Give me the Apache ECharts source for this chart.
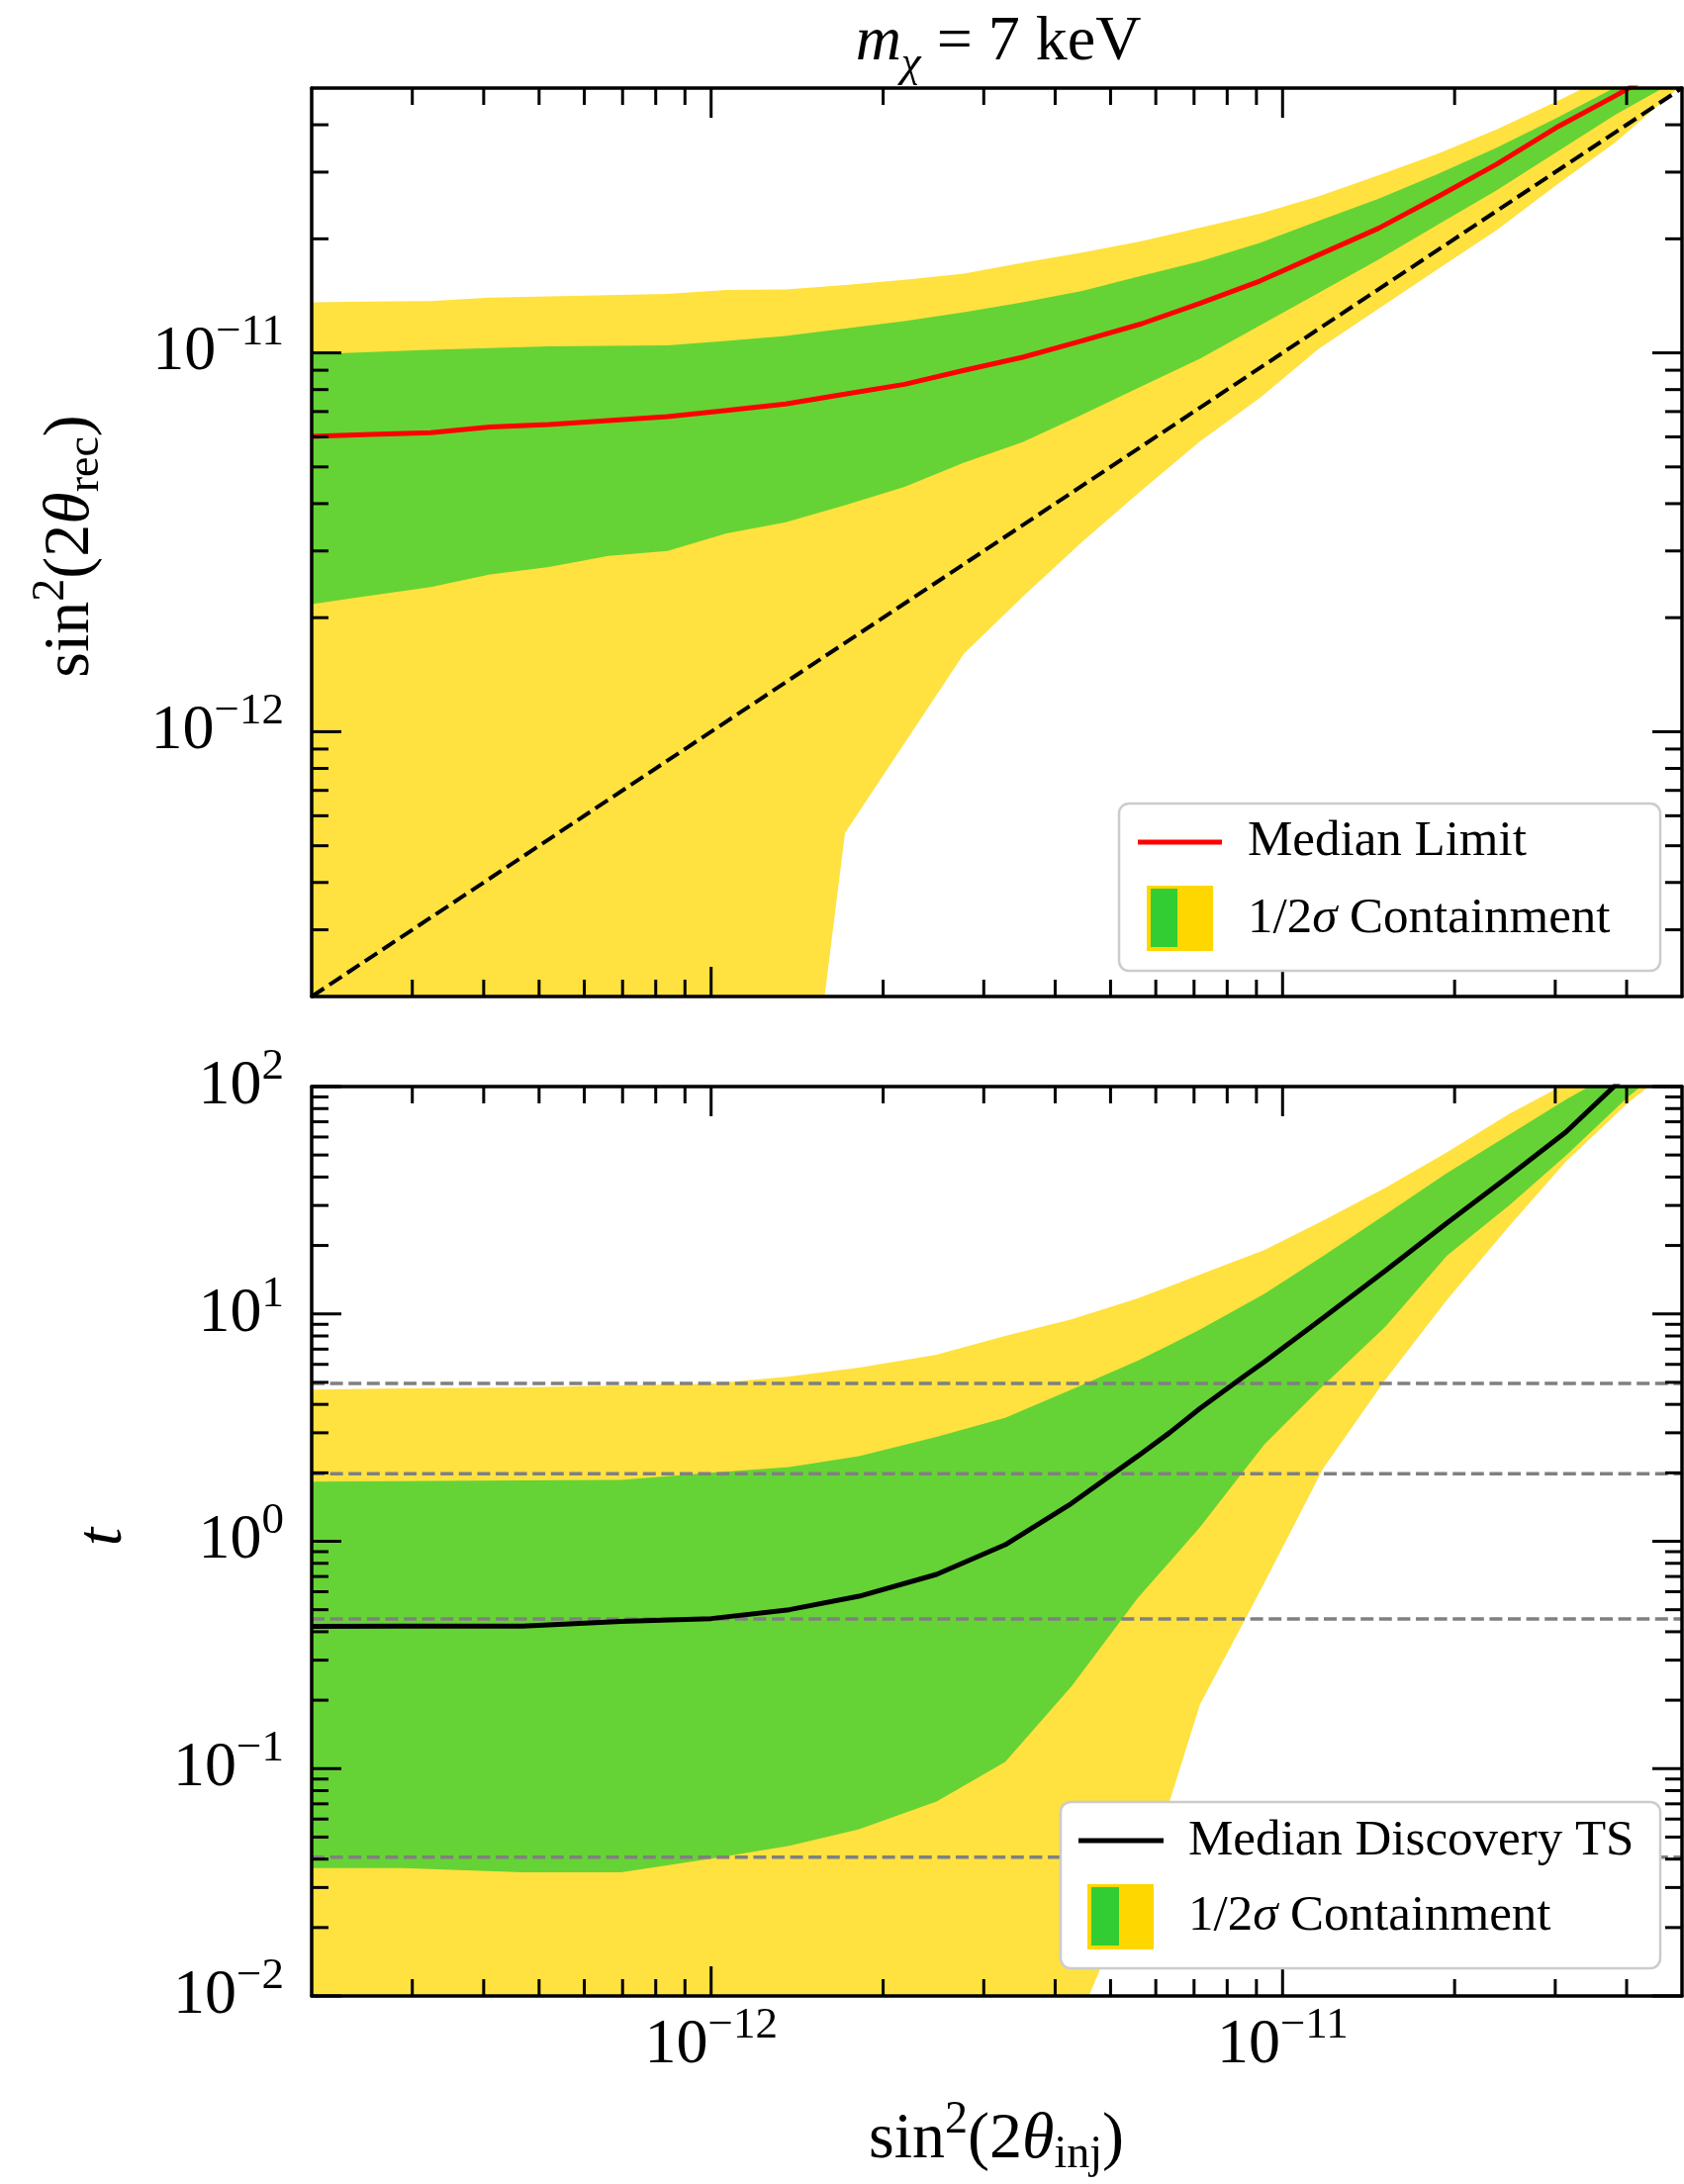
<!DOCTYPE html>
<html>
<head>
<meta charset="utf-8">
<script src="https://cdn.jsdelivr.net/npm/echarts@6/dist/echarts.min.js"></script>
<style>
html,body{margin:0;padding:0;background:#fff;}
#chart{width:1702px;height:2207px;}
</style>
</head>
<body>
<div id="chart"></div>
<script>
// ================= DATA =================
const xRange = [2e-13, 5e-11];
const topYRange = [2e-13, 5e-11];
const botYRange = [1e-2, 1e2];

// Top panel: recovered mixing angle vs injected
const topX = [2.0e-13, 2.54e-13, 3.23e-13, 4.10e-13, 5.20e-13, 6.61e-13, 8.39e-13, 1.064e-12, 1.35e-12, 1.715e-12,
  2.18e-12, 2.77e-12, 3.51e-12, 4.46e-12, 5.66e-12, 7.18e-12, 9.12e-12, 1.158e-11, 1.47e-11, 1.866e-11,
  2.37e-11, 3.01e-11, 3.82e-11, 4.85e-11, 6.15e-11];
const topYellowUpper = [1.36e-11, 1.365e-11, 1.37e-11, 1.40e-11, 1.41e-11, 1.42e-11, 1.43e-11, 1.465e-11, 1.47e-11, 1.51e-11,
  1.56e-11, 1.62e-11, 1.73e-11, 1.84e-11, 1.97e-11, 2.14e-11, 2.33e-11, 2.59e-11, 2.94e-11, 3.35e-11,
  3.89e-11, 4.6e-11, 5.5e-11, 6.5e-11, 7.6e-11];
const topGreenUpper = [9.92e-12, 1.005e-11, 1.019e-11, 1.03e-11, 1.04e-11, 1.044e-11, 1.047e-11, 1.075e-11, 1.108e-11, 1.16e-11,
  1.212e-11, 1.28e-11, 1.359e-11, 1.456e-11, 1.596e-11, 1.746e-11, 1.95e-11, 2.234e-11, 2.55e-11, 2.965e-11,
  3.48e-11, 4.16e-11, 5.02e-11, 6.0e-11, 7.2e-11];
const topMedianLimit = [6.02e-12, 6.09e-12, 6.16e-12, 6.37e-12, 6.47e-12, 6.63e-12, 6.79e-12, 7.05e-12, 7.33e-12, 7.78e-12,
  8.26e-12, 8.99e-12, 9.74e-12, 1.076e-11, 1.193e-11, 1.353e-11, 1.547e-11, 1.816e-11, 2.13e-11, 2.58e-11,
  3.15e-11, 3.93e-11, 4.77e-11, 5.85e-11, 7.1e-11];
const topGreenLower = [2.17e-12, 2.29e-12, 2.41e-12, 2.60e-12, 2.72e-12, 2.91e-12, 3.00e-12, 3.34e-12, 3.57e-12, 3.96e-12,
  4.43e-12, 5.13e-12, 5.81e-12, 6.87e-12, 8.15e-12, 9.66e-12, 1.18e-11, 1.442e-11, 1.762e-11, 2.176e-11,
  2.685e-11, 3.38e-11, 4.25e-11, 5.2e-11, 6.5e-11];
const topYellowLower = [1e-15, 1e-15, 1e-15, 1e-15, 1e-15, 1e-15, 1e-15, 1e-15, 3e-14, 5.40e-13,
  9.33e-13, 1.607e-12, 2.27e-12, 3.17e-12, 4.33e-12, 5.85e-12, 7.6e-12, 1.026e-11, 1.305e-11, 1.66e-11,
  2.11e-11, 2.77e-11, 3.59e-11, 4.9e-11, 6.0e-11];

// Bottom panel: discovery test statistic vs injected
const botX = [2.0e-13, 2.89e-13, 4.68e-13, 6.96e-13, 1.0e-12, 1.37e-12, 1.815e-12, 2.48e-12, 3.27e-12, 4.27e-12,
  5.58e-12, 6.34e-12, 7.17e-12, 8.54e-12, 9.29e-12, 1.179e-11, 1.514e-11, 1.938e-11, 2.49e-11, 3.135e-11,
  4.03e-11, 5.18e-11];
const botYellowUpper = [4.65, 4.70, 4.75, 4.85, 4.93, 5.31, 5.80, 6.62, 8.0, 9.46,
  11.7, 13.2, 14.9, 17.6, 19.1, 25.8, 35.9, 51.3, 75.7, 103, 145, 200];
const botGreenUpper = [1.83, 1.84, 1.85, 1.86, 2.0, 2.12, 2.37, 2.88, 3.49, 4.65,
  6.23, 7.3, 8.55, 10.9, 12.25, 18.0, 27.4, 41.6, 61.4, 87.8, 125, 175];
const botMedianTS = [0.4225, 0.423, 0.4236, 0.4436, 0.457, 0.50, 0.573, 0.715, 0.965, 1.466,
  2.37, 3.0, 3.84, 5.29, 6.15, 9.63, 15.5, 25.1, 40.4, 63.2, 115, 180];
const botGreenLower = [0.0365, 0.0365, 0.035, 0.035, 0.0402, 0.0458, 0.0541, 0.0717, 0.107, 0.23,
  0.564, 0.81, 1.153, 2.03, 2.666, 4.85, 8.81, 18.0, 30.0, 49.8, 90.5, 150];
const botYellowLower = [0.001, 0.001, 0.001, 0.001, 0.001, 0.001, 0.001, 0.001, 0.002, 0.0065,
  0.033, 0.0717, 0.192, 0.438, 0.657, 2.10, 5.15, 11.5, 24.3, 46.9, 85.1, 140];

// Horizontal reference levels of t (dashed grey)
const tsLevels = [0.0408, 0.455, 1.98, 4.95];

// Tick positions / labels
const xMajorTicks = [1e-12, 1e-11];
const topYMajorTicks = [1e-12, 1e-11];
const botYMajorTicks = [1e-2, 1e-1, 1e0, 1e1, 1e2];
const minorMultipliers = [2, 3, 4, 5, 6, 7, 8, 9];
const xDecades = [1e-13, 1e-12, 1e-11];
const botYDecades = [1e-2, 1e-1, 1e0, 1e1];

// ================= HELPERS =================
const FONT = '"Liberation Serif", "Times New Roman", serif';
function minorTicks(decades, range) {
  const out = [];
  decades.forEach(d => minorMultipliers.forEach(m => {
    const v = m * d;
    if (v > range[0] * 1.0001 && v < range[1] * 0.9999) out.push(v);
  }));
  return out;
}
function powLabel(list) {
  return function (v) {
    const lv = Math.log10(v), e = Math.round(lv);
    if (Math.abs(lv - e) > 1e-6) return '';
    if (!list.some(t => Math.round(Math.log10(t)) === e)) return '';
    return '{b|10}{s|' + (e < 0 ? '\u2212' : '') + Math.abs(e) + '}';
  };
}
const labelRich = {
  b: {fontSize: 64, fontFamily: FONT, color: '#000'},
  s: {fontSize: 45, fontFamily: FONT, color: '#000', padding: [0, 0, 40, 0]}
};
function inter(a, b, ax, c) {
  const t = (c - a[ax]) / (b[ax] - a[ax]);
  return [a[0] + t * (b[0] - a[0]), a[1] + t * (b[1] - a[1])];
}
function clipPoly(pts, x0, y0, x1, y1) {
  const planes = [[0, x0, 1], [0, x1, -1], [1, y0, 1], [1, y1, -1]];
  let out = pts;
  for (const [ax, c, s] of planes) {
    const inp = out; out = [];
    if (!inp.length) break;
    const inside = p => s * (p[ax] - c) >= 0;
    for (let i = 0; i < inp.length; i++) {
      const cur = inp[i], prev = inp[(i + inp.length - 1) % inp.length];
      const ci = inside(cur), pi = inside(prev);
      if (ci) { if (!pi) out.push(inter(prev, cur, ax, c)); out.push(cur); }
      else if (pi) out.push(inter(prev, cur, ax, c));
    }
  }
  return out;
}
function bandSeries(xi, yi, xs, lo, hi, color, z) {
  return {
    type: 'custom', xAxisIndex: xi, yAxisIndex: yi, z: z, silent: true, clip: false,
    data: [[xs[0], hi[0]]],
    renderItem: function (params, api) {
      const pts = [];
      for (let i = 0; i < xs.length; i++) pts.push(api.coord([xs[i], hi[i]]));
      for (let i = xs.length - 1; i >= 0; i--) pts.push(api.coord([xs[i], lo[i]]));
      const cs = params.coordSys;
      const poly = clipPoly(pts, cs.x, cs.y, cs.x + cs.width, cs.y + cs.height);
      return {type: 'polygon', shape: {points: poly}, style: {fill: color, stroke: null}};
    }
  };
}
function tickSeries(xi, yi, xr, yr, xMaj, xMin, yMaj, yMin) {
  const defs = [];
  xMaj.forEach(v => defs.push({a: 'x', v: v, len: 30}));
  xMin.forEach(v => defs.push({a: 'x', v: v, len: 17}));
  yMaj.forEach(v => defs.push({a: 'y', v: v, len: 30}));
  yMin.forEach(v => defs.push({a: 'y', v: v, len: 17}));
  return {
    type: 'custom', xAxisIndex: xi, yAxisIndex: yi, z: 12, silent: true, clip: false,
    data: defs.map(d => d.a === 'x' ? [d.v, yr[0]] : [xr[0], d.v]),
    renderItem: function (params, api) {
      const d = defs[params.dataIndex];
      const cs = params.coordSys;
      const st = {stroke: '#000', lineWidth: 3};
      const b = cs.y + cs.height, r = cs.x + cs.width;
      if (d.a === 'x') {
        const p = api.coord([d.v, yr[0]])[0];
        return {type: 'group', children: [
          {type: 'line', shape: {x1: p, y1: b, x2: p, y2: b - d.len}, style: st},
          {type: 'line', shape: {x1: p, y1: cs.y, x2: p, y2: cs.y + d.len}, style: st}]};
      }
      const q = api.coord([xr[0], d.v])[1];
      return {type: 'group', children: [
        {type: 'line', shape: {x1: cs.x, y1: q, x2: cs.x + d.len, y2: q}, style: st},
        {type: 'line', shape: {x1: r, y1: q, x2: r - d.len, y2: q}, style: st}]};
    }
  };
}
function mkAxis(kind, gridIndex, position, range, labelOpt) {
  const a = {
    type: 'log', logBase: 10, gridIndex: gridIndex, position: position, min: range[0], max: range[1], z: 8,
    axisLine: {show: true, onZero: false, lineStyle: {color: '#000', width: 3.5}},
    axisTick: {show: false}, minorTick: {show: false},
    splitLine: {show: false}, minorSplitLine: {show: false},
    axisLabel: {show: false}
  };
  if (labelOpt) {
    a.axisLabel = Object.assign({show: true, interval: 0, rich: labelRich, fontFamily: FONT,
      showMinLabel: true, showMaxLabel: true, hideOverlap: false}, labelOpt);
  }
  return a;
}
function lineSeries(xi, yi, xs, ys, color, width, dash, z) {
  return {
    type: 'line', xAxisIndex: xi, yAxisIndex: yi, z: z, silent: true,
    data: xs.map((x, i) => [x, ys[i]]), showSymbol: false, symbol: 'none', clip: true,
    lineStyle: {color: color, width: width, type: dash || 'solid', cap: 'butt'}
  };
}

// ================= CHART =================
const chart = echarts.init(document.getElementById('chart'), null, {renderer: 'canvas', width: 1702, height: 2207});

const GAP = {outerBoundsMode: 'none', containLabel: false, show: false};
const option = {
  animation: false,
  backgroundColor: '#fff',
  grid: [
    Object.assign({left: 315, top: 89, width: 1385, height: 918}, GAP),
    Object.assign({left: 315, top: 1098, width: 1385, height: 919}, GAP)
  ],
  xAxis: [
    mkAxis('x', 0, 'bottom', xRange, null),
    mkAxis('x', 0, 'top', xRange, null),
    mkAxis('x', 1, 'bottom', xRange, {margin: 8, formatter: powLabel(xMajorTicks)}),
    mkAxis('x', 1, 'top', xRange, null)
  ],
  yAxis: [
    mkAxis('y', 0, 'left', topYRange, {margin: 28, formatter: powLabel(topYMajorTicks)}),
    mkAxis('y', 0, 'right', topYRange, null),
    mkAxis('y', 1, 'left', botYRange, {margin: 28, formatter: powLabel(botYMajorTicks)}),
    mkAxis('y', 1, 'right', botYRange, null)
  ],
  series: [
    // top panel
    bandSeries(0, 0, topX, topYellowLower, topYellowUpper, 'rgba(255,215,0,0.75)', 1),
    bandSeries(0, 0, topX, topGreenLower, topGreenUpper, 'rgba(50,205,50,0.75)', 2),
    lineSeries(0, 0, xRange, topYRange, '#000', 4, [15, 6.5], 3),
    lineSeries(0, 0, topX, topMedianLimit, '#ff0000', 5, null, 4),
    // bottom panel
    bandSeries(2, 2, botX, botYellowLower, botYellowUpper, 'rgba(255,215,0,0.75)', 1),
    bandSeries(2, 2, botX, botGreenLower, botGreenUpper, 'rgba(50,205,50,0.75)', 2),
    ...tsLevels.map(v => lineSeries(2, 2, xRange, [v, v], '#808080', 3.5, [13, 5.6], 3)),
    lineSeries(2, 2, botX, botMedianTS, '#000', 5, null, 4),
    // ticks
    tickSeries(0, 0, xRange, topYRange, xMajorTicks, minorTicks(xDecades, xRange),
      topYMajorTicks, minorTicks(xDecades, topYRange)),
    tickSeries(2, 2, xRange, botYRange, xMajorTicks, minorTicks(xDecades, xRange),
      botYMajorTicks, minorTicks(botYDecades, botYRange))
  ],
  graphic: {elements: [
    // title
    {type: 'text', x: 1009, y: 43, z: 100, style: {
      text: '{i|m}{sub|\u03c7} = 7 keV', font: '64px ' + FONT, fill: '#000',
      textAlign: 'center', textVerticalAlign: 'middle',
      rich: {i: {fontStyle: 'italic', fontSize: 64, fontFamily: FONT, fill: '#000'},
             sub: {fontStyle: 'italic', fontSize: 45, fontFamily: FONT, fill: '#000', padding: [44, 0, 0, 0]}}}},
    // x axis title
    {type: 'text', x: 1007, y: 2163, z: 100, style: {
      text: 'sin{sup|2}(2{i|\u03b8}{sub|inj})', font: '66px ' + FONT, fill: '#000',
      textAlign: 'center', textVerticalAlign: 'middle',
      rich: {i: {fontStyle: 'italic', fontSize: 66, fontFamily: FONT, fill: '#000'},
             sup: {fontSize: 46, fontFamily: FONT, fill: '#000', padding: [0, 0, 40, 0]},
             sub: {fontSize: 46, fontFamily: FONT, fill: '#000', padding: [30, 0, 0, 0]}}}},
    // top y axis title
    {type: 'text', x: 72, y: 552, rotation: Math.PI / 2, z: 100, style: {
      text: 'sin{sup|2}(2{i|\u03b8}{sub|rec})', font: '66px ' + FONT, fill: '#000',
      textAlign: 'center', textVerticalAlign: 'middle',
      rich: {i: {fontStyle: 'italic', fontSize: 66, fontFamily: FONT, fill: '#000'},
             sup: {fontSize: 46, fontFamily: FONT, fill: '#000', padding: [0, 0, 40, 0]},
             sub: {fontSize: 46, fontFamily: FONT, fill: '#000', padding: [30, 0, 0, 0]}}}},
    // bottom y axis title
    {type: 'text', x: 105, y: 1553, rotation: Math.PI / 2, z: 100, style: {
      text: 't', font: 'italic 66px ' + FONT, fill: '#000', textAlign: 'center', textVerticalAlign: 'middle'}},

    // top legend
    {type: 'rect', z: 100, shape: {x: 1131, y: 812, width: 547, height: 169, r: 10},
      style: {fill: '#fff', stroke: '#cccccc', lineWidth: 2.5}},
    {type: 'line', z: 101, shape: {x1: 1150, y1: 851, x2: 1235, y2: 851}, style: {stroke: '#ff0000', lineWidth: 5}},
    {type: 'text', x: 1261, y: 851, z: 101, style: {text: 'Median Limit', font: '51px ' + FONT, fill: '#000',
      textAlign: 'left', textVerticalAlign: 'middle'}},
    {type: 'rect', z: 101, shape: {x: 1159, y: 895, width: 67, height: 66}, style: {fill: '#FFD700', stroke: null}},
    {type: 'rect', z: 102, shape: {x: 1163, y: 898, width: 27, height: 59}, style: {fill: '#32CD32', stroke: null}},
    {type: 'text', x: 1261, y: 929, z: 101, style: {text: '1/2{i|\u03c3} Containment', font: '51px ' + FONT, fill: '#000',
      textAlign: 'left', textVerticalAlign: 'middle',
      rich: {i: {fontStyle: 'italic', fontSize: 51, fontFamily: FONT, fill: '#000'}}}},

    // bottom legend
    {type: 'rect', z: 100, shape: {x: 1072, y: 1821, width: 606, height: 168, r: 10},
      style: {fill: '#fff', stroke: '#cccccc', lineWidth: 2.5}},
    {type: 'line', z: 101, shape: {x1: 1090, y1: 1860, x2: 1176, y2: 1860}, style: {stroke: '#000', lineWidth: 5}},
    {type: 'text', x: 1201, y: 1861, z: 101, style: {text: 'Median Discovery TS', font: '51px ' + FONT, fill: '#000',
      textAlign: 'left', textVerticalAlign: 'middle'}},
    {type: 'rect', z: 101, shape: {x: 1099, y: 1904, width: 67, height: 66}, style: {fill: '#FFD700', stroke: null}},
    {type: 'rect', z: 102, shape: {x: 1103, y: 1907, width: 28, height: 59}, style: {fill: '#32CD32', stroke: null}},
    {type: 'text', x: 1201, y: 1937, z: 101, style: {text: '1/2{i|\u03c3} Containment', font: '51px ' + FONT, fill: '#000',
      textAlign: 'left', textVerticalAlign: 'middle',
      rich: {i: {fontStyle: 'italic', fontSize: 51, fontFamily: FONT, fill: '#000'}}}}
  ]}
};
chart.setOption(option);
</script>
</body>
</html>
